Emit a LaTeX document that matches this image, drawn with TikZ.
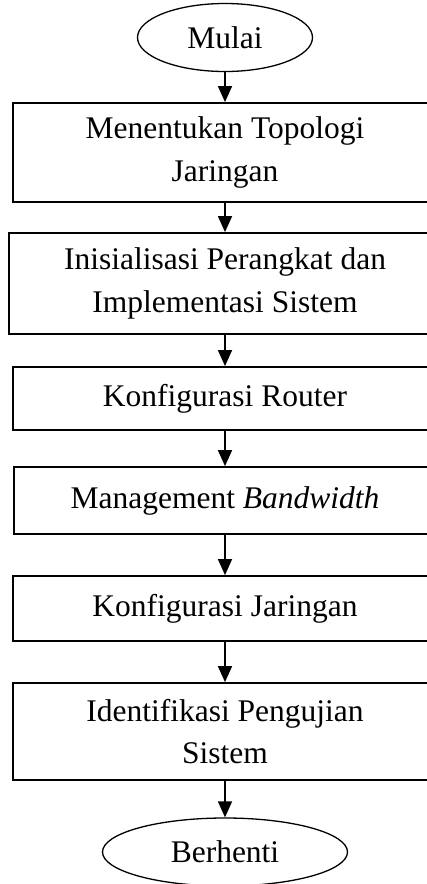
\documentclass[tikz,border=0pt]{standalone}
\usepackage{fontspec}
\setmainfont{Liberation Serif}
\usetikzlibrary{arrows.meta,shapes.geometric}
\begin{document}
\begin{tikzpicture}[x=1pt,y=-1pt,
  txt/.style={font=\fontsize{31.5}{42.5}\selectfont, align=center, inner sep=0pt},
  procbox/.style={txt, draw, line width=1.8pt, rectangle},
  term/.style={txt, draw, line width=1.3pt, ellipse},
  flow/.style={line width=1.5pt, -{Triangle[length=16pt,width=14pt]}}]
\useasboundingbox (0,0) rectangle (427,884);
\clip (0,0) rectangle (427,884);
\node[term, minimum width=175pt, minimum height=68pt] (start) at (225,37.5) {Mulai};
\node[procbox, minimum width=424pt, minimum height=99pt] (b1) at (225,152.5) {Menentukan Topologi\\Jaringan};
\node[procbox, minimum width=432pt, minimum height=101pt] (b2) at (225,283.5) {Inisialisasi Perangkat dan\\Implementasi Sistem};
\node[procbox, minimum width=424pt, minimum height=63pt] (b3) at (225,398.5) {Konfigurasi Router};
\node[procbox, minimum width=422pt, minimum height=67pt] (b4) at (225,500.5) {Management \textit{Bandwidth}};
\node[procbox, minimum width=424pt, minimum height=65pt] (b5) at (225,608.5) {Konfigurasi Jaringan};
\node[procbox, minimum width=424pt, minimum height=97pt] (b6) at (225,731.5) {Identifikasi Pengujian\\Sistem};
\node[term, minimum width=245pt, minimum height=68pt] (stop) at (225,852) {Berhenti};
\draw[flow] (start) -- (b1);
\draw[flow] (b1) -- (b2);
\draw[flow] (b2) -- (b3);
\draw[flow] (b3) -- (b4);
\draw[flow] (b4) -- (b5);
\draw[flow] (b5) -- (b6);
\draw[flow] (b6) -- (stop);
\end{tikzpicture}
\end{document}
